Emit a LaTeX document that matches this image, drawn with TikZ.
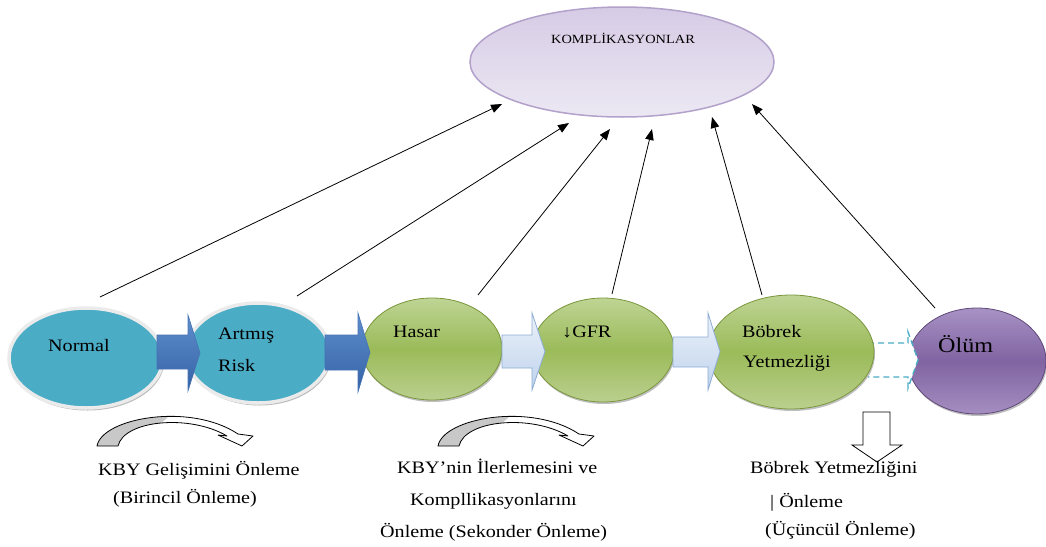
\documentclass[tikz,border=0pt]{standalone}
\usepackage{fontspec}
\setmainfont{Liberation Serif}[FakeStretch=1.15]
\usetikzlibrary{arrows.meta,shapes.geometric,shadows}
\definecolor{cyanE}{RGB}{75,172,198}
\definecolor{grTop}{RGB}{190,212,148}
\definecolor{grMid}{RGB}{155,187,89}
\definecolor{grBot}{RGB}{186,207,142}
\definecolor{grLine}{RGB}{122,150,60}
\definecolor{puTop}{RGB}{168,146,196}
\definecolor{puMid}{RGB}{128,100,162}
\definecolor{puBot}{RGB}{165,142,192}
\definecolor{puLine}{RGB}{96,73,122}
\definecolor{lvTop}{RGB}{214,203,229}
\definecolor{lvBot}{RGB}{236,232,243}
\definecolor{lvLine}{RGB}{178,161,202}
\definecolor{dbTop}{RGB}{95,142,205}
\definecolor{dbBot}{RGB}{52,98,165}
\definecolor{dbLine}{RGB}{70,115,180}
\definecolor{lbTop}{RGB}{236,242,250}
\definecolor{lbBot}{RGB}{190,210,236}
\definecolor{lbLine}{RGB}{140,172,212}
\definecolor{curveGray}{RGB}{200,200,200}
\newcommand\blockarrow[8]{%
  \path[#1] (#2,#5) -- (#3,#5) -- (#3,#7) -- (#4,{(#7+#8)/2}) -- (#3,#8) -- (#3,#6) -- (#2,#6) -- cycle;}
\newcommand\bandshape{(0,0) .. controls (5,-28) and (93,-44) .. (141,-12) -- (156,-10) -- (145,0) -- (121,-11) -- (130,-10) .. controls (93,-32) and (27,-26) .. (21,0) -- cycle}
\newcommand\curvedarrow[1]{%
  \begin{scope}[shift={#1}]
    \fill[white] \bandshape;
    \begin{scope}
      \clip \bandshape;
      \fill[curveGray] (-5,5) -- (-5,-50) -- (82,-50) -- (70,-28) -- (30,5) -- cycle;
    \end{scope}
    \draw[black, line width=0.8pt, line join=round] \bandshape;
  \end{scope}}
\tikzset{
  blueell/.style={ellipse, inner sep=0pt, fill=cyanE, draw=black!8, line width=3.5pt,
    drop shadow={shadow xshift=1.5pt, shadow yshift=-2.5pt, fill=black!45, opacity=0.6}},
  greenell/.style={ellipse, inner sep=0pt, top color=grTop, bottom color=grBot, middle color=grMid,
    draw=grLine, line width=0.8pt,
    drop shadow={shadow xshift=1pt, shadow yshift=-2pt, fill=black!50, opacity=0.5}},
  purpleell/.style={ellipse, inner sep=0pt, top color=puTop, bottom color=puBot, middle color=puMid,
    draw=puLine, line width=0.8pt,
    drop shadow={shadow xshift=1pt, shadow yshift=-2pt, fill=black!50, opacity=0.5}},
  lavell/.style={ellipse, inner sep=0pt, top color=lvTop, bottom color=lvBot, draw=lvLine, line width=1.5pt},
  darkarrow/.style={top color=dbTop, bottom color=dbBot, draw=dbLine, line width=0.6pt},
  lightarrow/.style={top color=lbTop, bottom color=lbBot, draw=lbLine, line width=0.8pt},
  lbl/.style={anchor=base west, inner sep=0pt, font=\fontsize{17.5}{20}\selectfont},
  conn/.style={draw=black, line width=0.8pt, -{Triangle[length=11pt,width=8.5pt]}}
}
\begin{document}
\begin{tikzpicture}[x=1pt,y=-1pt]
\useasboundingbox (0,0) rectangle (1046,546);
% top ellipse
\node[lavell, minimum width=304pt, minimum height=110pt] (komp) at (622,62) {};
\node[anchor=base, inner sep=0pt, font=\fontsize{12.5}{14}\selectfont] (kompt) at (623,43) {KOMPLİKASYONLAR};
% Olum and dashed arrow
\node[purpleell, minimum width=138pt, minimum height=106pt] (olum) at (977,361) {};
\fill[white] (862,343) -- (908,343) -- (908,332) -- (918,360) -- (908,388) -- (908,377) -- (862,377) -- cycle;
\draw[cyanE, line width=1.4pt, dashed, dash pattern=on 6pt off 4pt] (868,343) -- (908,343) -- (908,332) -- (918,360) -- (908,388) -- (908,377) -- (868,377);
% stage ellipses
\node[blueell, minimum width=154pt, minimum height=100pt] (normal) at (86,358) {};
\node[blueell, minimum width=144pt, minimum height=100pt] (risk) at (258,353) {};
\node[greenell, minimum width=140pt, minimum height=102pt] (hasar) at (432,349) {};
\node[greenell, minimum width=142pt, minimum height=104pt] (gfr) at (603,350) {};
\node[greenell, minimum width=166pt, minimum height=114pt] (bobrek) at (791,352) {};
% block arrows
\blockarrow{darkarrow}{157}{188}{200}{335}{369}{315}{391}
\blockarrow{darkarrow}{325}{358}{370}{335}{370}{313}{392}
\blockarrow{lightarrow}{502}{532}{545}{335}{368}{313}{390}
\blockarrow{lightarrow}{673}{708}{720}{337}{367}{313}{390}
% texts in ellipses
\node[lbl] (tnormal) at (48,351) {Normal};
\node[lbl] (tart) at (218,339) {Artmış};
\node[lbl] (trisk) at (218,371) {Risk};
\node[lbl] (thasar) at (393,337) {Hasar};
\node[lbl] (tgfr) at (562,337) {↓GFR};
\node[lbl] (tbob) at (742,337) {Böbrek};
\node[lbl] (tyet) at (743,367) {Yetmezliği};
\node[lbl, font=\fontsize{21}{24}\selectfont] (tolum) at (938,352) {Ölüm};
% connectors to complications
\coordinate (s1) at (100,297); \coordinate (t1) at (502,104);
\coordinate (s2) at (297,296); \coordinate (t2) at (569,123);
\coordinate (s3) at (478,295); \coordinate (t3) at (610,129);
\coordinate (s4) at (612,294); \coordinate (t4) at (652,129);
\coordinate (s5) at (762,295); \coordinate (t5) at (712,117);
\coordinate (s6) at (935,308); \coordinate (t6) at (752,104);
\foreach \i in {1,...,6} { \draw[conn] (s\i) -- (t\i); }
% curved prevention arrows
\curvedarrow{(97,446)}
\curvedarrow{(438,446)}
% down arrow
\draw[fill=white, line width=0.8pt, line join=miter] (863,412) -- (890,412) -- (890,445) -- (902,445) -- (877,462) -- (852,445) -- (863,445) -- cycle;
% bottom texts
\node[lbl] (p1a) at (98,475) {KBY Gelişimini Önleme};
\node[lbl] (p1b) at (113,503) {(Birincil Önleme)};
\node[lbl] (p2a) at (397,473) {KBY’nin İlerlemesini ve};
\node[lbl] (p2b) at (410,505) {Kompllikasyonlarını};
\node[lbl] (p2c) at (380,537) {Önleme (Sekonder Önleme)};
\node[lbl] (p3a) at (750,473) {Böbrek Yetmezliğini};
\node[lbl] (p3b) at (770,507) {| Önleme};
\node[lbl] (p3c) at (765,535) {(Üçüncül Önleme)};
\end{tikzpicture}
\end{document}
